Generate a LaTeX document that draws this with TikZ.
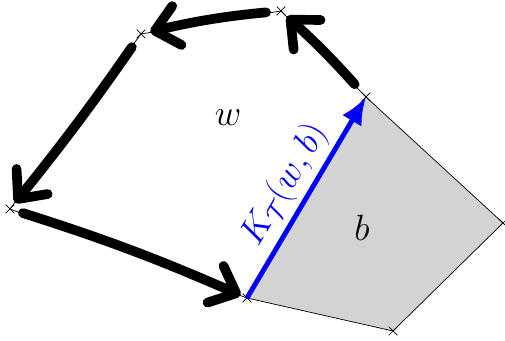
\documentclass[tikz,border=0pt]{standalone}
\usepackage{amsmath, amssymb}
\usetikzlibrary{arrows.meta, shapes.misc}
\definecolor{cellgray}{RGB}{211,211,211}
\definecolor{kblue}{RGB}{0,0,255}

\begin{document}
\begin{tikzpicture}[font=\huge,
  vtx/.style={draw, cross out, thin, minimum size=1.6mm, inner sep=0pt},
  flow/.style={line width=5.5pt, line cap=round, line join=round,
    -{Straight Barb[length=4.5mm, width=8mm, line cap=round, line join=round]}}]
\useasboundingbox (0,0) rectangle (10.1,6.82);
% corners of the two cells
\coordinate (A) at (4.94,0.86);
\coordinate (B) at (7.32,4.88);
\coordinate (C) at (10.06,2.36);
\coordinate (D) at (7.86,0.20);
\coordinate (E) at (5.62,6.60);
\coordinate (F) at (2.82,6.14);
\coordinate (G) at (0.20,2.64);
% black cell b
\fill[cellgray] (A) -- (B) -- (C) -- (D) -- cycle;
\draw[thin] (B) -- (C) -- (D) -- (A);
% white cell w
\draw[thin] (B) -- (E) -- (F) -- (G) -- (A);
\foreach \v in {A,B,C,D,E,F,G}
  \node[vtx] (x\v) at (\v) {};
\node (lw) at (4.56,4.46) {$w$};
\node (lb) at (7.24,2.26) {$b$};
% walk around w
\draw[flow, shorten <=3.4mm, shorten >=1.6mm] (B) to[bend right=3] (E);
\draw[flow, shorten <=3mm, shorten >=1.9mm] (E) to[bend right=4] (F);
\draw[flow, shorten <=3.2mm, shorten >=1.6mm] (F) to[bend left=2] (G);
\draw[flow, shorten <=2.7mm, shorten >=1.4mm] (G) to[bend left=3] (A);
% shared edge
\draw[kblue, line width=2.8pt, -{Latex[length=5.5mm, width=4.5mm]}] (A) -- node[midway, sloped, above=-1pt] (lk) {$K_{\mathcal{T}}(w,b)$} (B);
\end{tikzpicture}
\end{document}
